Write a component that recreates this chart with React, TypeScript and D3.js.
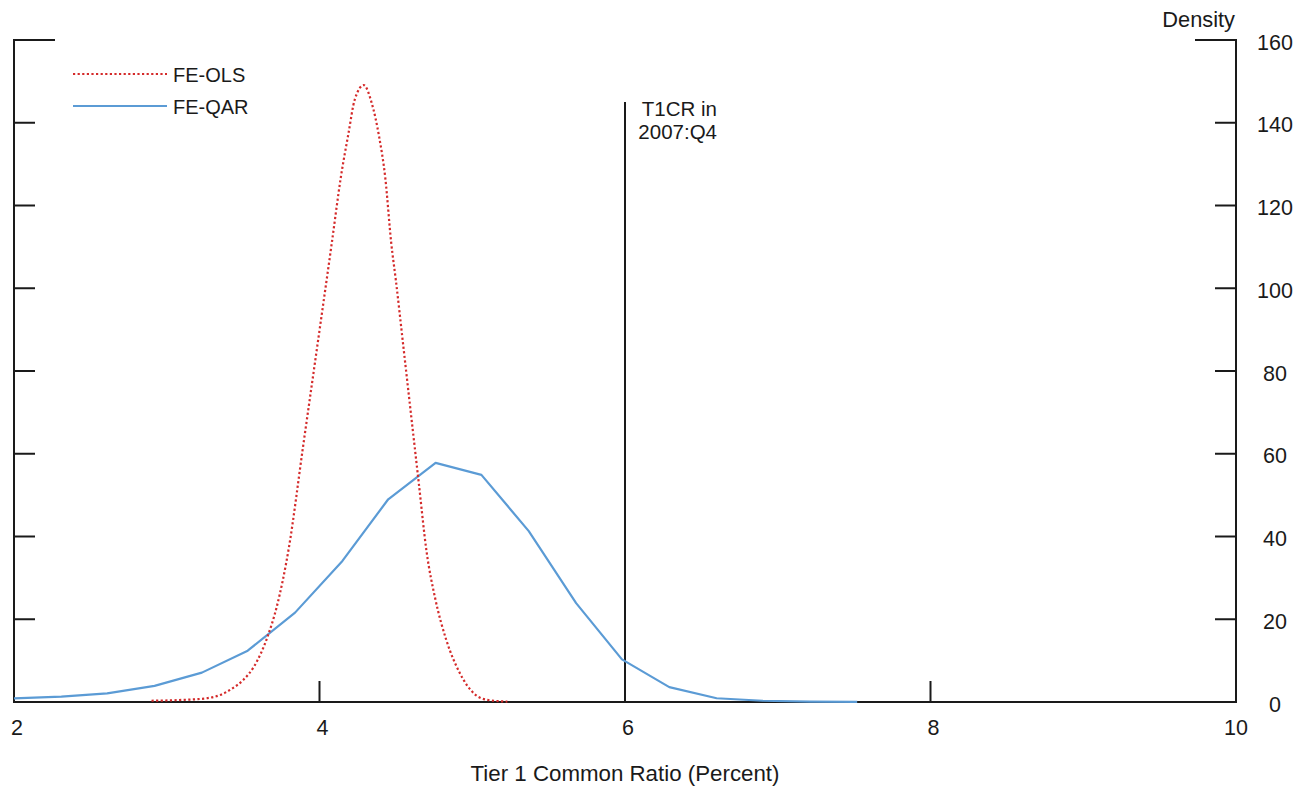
import React, { useEffect, useRef } from "react";
import * as d3 from "d3";

// FE-QAR density (blue polyline)
const qarX = [2.0, 2.31, 2.61, 2.92, 3.23, 3.53, 3.84, 4.15, 4.45, 4.76, 5.06, 5.37, 5.68, 5.98, 6.29, 6.6, 6.9, 7.21, 7.52];
const qarY = [0.9, 1.3, 2.1, 3.9, 7.1, 12.4, 21.6, 34.1, 49.0, 57.8, 54.9, 41.3, 23.9, 10.3, 3.6, 0.9, 0.3, 0.1, 0.05];

// FE-OLS density (red dotted curve)
const olsX = [2.9, 3.1, 3.26, 3.35, 3.43, 3.5, 3.57, 3.66, 3.72, 3.8, 3.89, 4.0, 4.08, 4.14, 4.19, 4.23, 4.29, 4.34, 4.39, 4.43, 4.47, 4.5, 4.55, 4.6, 4.65, 4.7, 4.76, 4.83, 4.92, 5.01, 5.1, 5.23];
const olsY = [0.3, 0.5, 0.9, 1.7, 3.3, 5.3, 8.5, 15.8, 23.0, 37.4, 61.1, 89.8, 110.8, 126.9, 137.5, 145.5, 149.1, 145.0, 136.7, 126.9, 110.8, 101.9, 85.6, 69.2, 52.9, 36.6, 24.6, 15.0, 6.9, 2.1, 0.5, 0.1];

const xTicks = [2, 4, 6, 8, 10];
const yTicks = [0, 20, 40, 60, 80, 100, 120, 140, 160];

const t1crValue = 6;
const t1crTop = 145;

const RED = "#d42a2a";
const BLUE = "#5b9bd5";
const INK = "#1a1a1a";
const FONT = "'Liberation Sans', Arial, sans-serif";

const App = () => {
  const chartRef = useRef<SVGSVGElement | null>(null);

  useEffect(() => {
    const width = 1300;
    const height = 789;
    const left = 14;
    const right = 1236;
    const top = 40;
    const bottom = 702;

    const svg = d3.select(chartRef.current);
    svg.selectAll("*").remove();
    svg.attr("width", width).attr("height", height);

    const x = d3.scaleLinear().domain([2, 10]).range([left, right]);
    const y = d3.scaleLinear().domain([0, 160]).range([bottom, top]);

    const g = svg.append("g").attr("font-family", FONT);

    // frame
    g.append("path")
      .attr("d", `M${left},${top}V${bottom}H${right}V${top}`)
      .attr("fill", "none")
      .attr("stroke", INK)
      .attr("stroke-width", 2);

    // left ticks (inward)
    const inner = yTicks.filter((d) => d > 0 && d < 160);
    g.selectAll(".lt")
      .data(inner)
      .enter()
      .append("line")
      .attr("x1", left)
      .attr("x2", left + 21)
      .attr("y1", (d) => y(d))
      .attr("y2", (d) => y(d))
      .attr("stroke", INK)
      .attr("stroke-width", 2);
    // right ticks (inward)
    g.selectAll(".rt")
      .data(inner)
      .enter()
      .append("line")
      .attr("x1", right - 21)
      .attr("x2", right)
      .attr("y1", (d) => y(d))
      .attr("y2", (d) => y(d))
      .attr("stroke", INK)
      .attr("stroke-width", 2);
    // top ticks are longer
    g.append("line")
      .attr("x1", left - 1).attr("x2", left + 41)
      .attr("y1", y(160)).attr("y2", y(160))
      .attr("stroke", INK).attr("stroke-width", 2);
    g.append("line")
      .attr("x1", right - 41).attr("x2", right + 1)
      .attr("y1", y(160)).attr("y2", y(160))
      .attr("stroke", INK).attr("stroke-width", 2);

    // bottom ticks (upward)
    g.selectAll(".bt")
      .data(xTicks.filter((d) => d > 2 && d < 10))
      .enter()
      .append("line")
      .attr("x1", (d) => x(d))
      .attr("x2", (d) => x(d))
      .attr("y1", bottom)
      .attr("y2", bottom - 21)
      .attr("stroke", INK)
      .attr("stroke-width", 2);

    // x tick labels
    g.selectAll(".xl")
      .data(xTicks)
      .enter()
      .append("text")
      .attr("x", (d) => x(d) + (d < 10 ? 3 : 0))
      .attr("y", 735)
      .attr("text-anchor", "middle")
      .attr("font-size", 21.5)
      .attr("fill", INK)
      .text((d) => d);

    // right y tick labels
    g.selectAll(".yl")
      .data(yTicks)
      .enter()
      .append("text")
      .attr("x", 1275)
      .attr("y", (d) => y(d) + 2)
      .attr("dy", "0.36em")
      .attr("text-anchor", "middle")
      .attr("font-size", 21.5)
      .attr("fill", INK)
      .text((d) => d);

    // Density label
    g.append("text")
      .attr("x", 1235)
      .attr("y", 27)
      .attr("text-anchor", "end")
      .attr("font-size", 21.8)
      .attr("fill", INK)
      .text("Density");

    // x axis title
    g.append("text")
      .attr("x", 625)
      .attr("y", 781)
      .attr("text-anchor", "middle")
      .attr("font-size", 22.3)
      .attr("fill", INK)
      .text("Tier 1 Common Ratio (Percent)");

    // T1CR line + annotation
    g.append("line")
      .attr("x1", x(t1crValue))
      .attr("x2", x(t1crValue))
      .attr("y1", y(t1crTop))
      .attr("y2", bottom)
      .attr("stroke", INK)
      .attr("stroke-width", 2);
    const note = g.append("text")
      .attr("text-anchor", "end")
      .attr("font-size", 20.5)
      .attr("fill", INK);
    note.append("tspan").attr("x", 717).attr("y", 116).text("T1CR in");
    note.append("tspan").attr("x", 717).attr("y", 139).text("2007:Q4");

    // FE-QAR
    const qar = qarX.map((v, i) => [v, qarY[i]] as [number, number]);
    const lineQar = d3
      .line<[number, number]>()
      .x((d) => x(d[0]))
      .y((d) => y(d[1]));
    g.append("path")
      .datum(qar)
      .attr("fill", "none")
      .attr("stroke", BLUE)
      .attr("stroke-width", 2.2)
      .attr("stroke-linejoin", "round")
      .attr("d", lineQar);

    // FE-OLS
    const ols = olsX.map((v, i) => [v, olsY[i]] as [number, number]);
    const lineOls = d3
      .line<[number, number]>()
      .x((d) => x(d[0]))
      .y((d) => y(d[1]))
      .curve(d3.curveMonotoneX);
    g.append("path")
      .datum(ols)
      .attr("fill", "none")
      .attr("stroke", RED)
      .attr("stroke-width", 2.2)
      .attr("stroke-dasharray", "2.2,2.4")
      .attr("d", lineOls);

    // legend
    const legend = g.append("g");
    legend.append("line")
      .attr("x1", 73).attr("x2", 167).attr("y1", 74).attr("y2", 74)
      .attr("stroke", RED).attr("stroke-width", 2).attr("stroke-dasharray", "2.2,2.4");
    legend.append("text")
      .attr("x", 173).attr("y", 82)
      .attr("font-size", 20).attr("fill", INK)
      .text("FE-OLS");
    legend.append("line")
      .attr("x1", 73).attr("x2", 167).attr("y1", 106).attr("y2", 106)
      .attr("stroke", BLUE).attr("stroke-width", 2);
    legend.append("text")
      .attr("x", 173).attr("y", 114)
      .attr("font-size", 20).attr("fill", INK)
      .text("FE-QAR");
  }, []);

  return (
    <svg
      ref={chartRef}
      style={{ position: "absolute", left: 0, top: 0, background: "#fff" }}
    />
  );
};

export default App;
